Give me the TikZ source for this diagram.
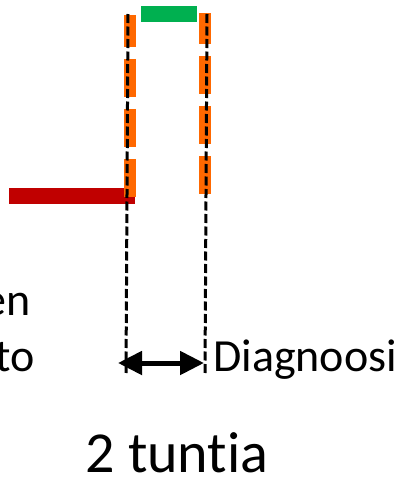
\documentclass[tikz,border=0pt]{standalone}
\usepackage{fontspec}
\setmainfont[RawFeature={-liga}]{Carlito}
\usetikzlibrary{arrows.meta}
\definecolor{barred}{RGB}{192,0,0}
\definecolor{bargreen}{RGB}{0,176,80}
\definecolor{markorange}{RGB}{255,104,0}
\begin{document}
\begin{tikzpicture}[x=1pt,y=-1pt,
  marker/.style={draw=markorange, line width=12pt, dash pattern=on 38pt off 12pt},
  guide/.style={draw=black, line width=3pt, dash pattern=on 9pt off 3.5pt},
  span/.style={draw=black, line width=5pt,
    {Triangle[length=24pt,width=23pt]}-{Triangle[length=24pt,width=23pt]}},
  label/.style={inner sep=0pt, font=\fontsize{46}{52}\selectfont},
  biglabel/.style={inner sep=0pt, font=\fontsize{58}{64}\selectfont}]
\useasboundingbox (0,0) rectangle (406,477);

% timeline bars
\fill[barred] (9,188) rectangle (135,204);
\fill[bargreen] (141,6) rectangle (197,22);

% orange marker columns
\draw[marker, dash phase=6pt] (130,15) -- (130,197);
\draw[marker, dash phase=7pt] (205,13) -- (205,194);

% black guide lines
\coordinate (lt) at (128,14);
\coordinate (lb) at (126,375);
\coordinate (rt) at (207,14);
\coordinate (rb) at (205,375);
\draw[guide] (lt) -- (lb);
\draw[guide] (rt) -- (rb);

% interval arrow
\coordinate (al) at (118,363);
\coordinate (ar) at (204,363);
\draw[span] (al) -- (ar);

% labels
\node[label, anchor=base east] (en) at (31,315) {en};
\node[label, anchor=base east] (to) at (35,371) {to};
\node[label, anchor=base west] (diag) at (213,371) {Diagnoosi};
\node[biglabel, anchor=base] (hours) at (177,472) {2 tuntia};
\end{tikzpicture}
\end{document}
